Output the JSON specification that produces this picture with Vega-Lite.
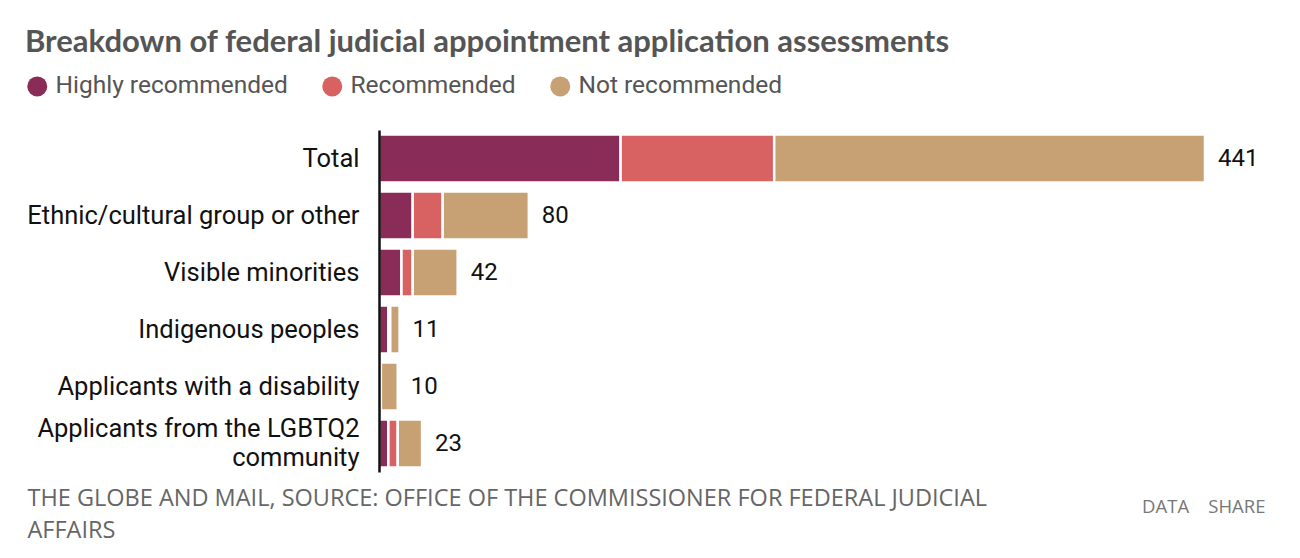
{
  "$schema": "https://vega.github.io/schema/vega-lite/v6.json",
  "width": 826,
  "height": 342,
  "autosize": {"type": "none"},
  "padding": {"left": 379, "top": 130, "right": 95, "bottom": 86},
  "background": "white",
  "title": {
    "text": "Breakdown of federal judicial appointment application assessments",
    "anchor": "start",
    "frame": "bounds",
    "font": "Lato",
    "fontWeight": "bold",
    "fontSize": 31,
    "color": "#555555",
    "offset": 15
  },
  "config": {
    "view": {"stroke": null},
    "font": "Roboto"
  },
  "resolve": {"axis": {"y": "independent"}},
  "datasets": {
    "segments": [
      {"group": "Total", "status": "Highly recommended", "rank": 1, "count": 129},
      {"group": "Total", "status": "Recommended", "rank": 2, "count": 82},
      {"group": "Total", "status": "Not recommended", "rank": 3, "count": 230},
      {"group": "Ethnic/cultural group or other", "status": "Highly recommended", "rank": 1, "count": 18},
      {"group": "Ethnic/cultural group or other", "status": "Recommended", "rank": 2, "count": 16},
      {"group": "Ethnic/cultural group or other", "status": "Not recommended", "rank": 3, "count": 46},
      {"group": "Visible minorities", "status": "Highly recommended", "rank": 1, "count": 12},
      {"group": "Visible minorities", "status": "Recommended", "rank": 2, "count": 6},
      {"group": "Visible minorities", "status": "Not recommended", "rank": 3, "count": 24},
      {"group": "Indigenous peoples", "status": "Highly recommended", "rank": 1, "count": 5},
      {"group": "Indigenous peoples", "status": "Recommended", "rank": 2, "count": 1},
      {"group": "Indigenous peoples", "status": "Not recommended", "rank": 3, "count": 5},
      {"group": "Applicants with a disability", "status": "Highly recommended", "rank": 1, "count": 1},
      {"group": "Applicants with a disability", "status": "Recommended", "rank": 2, "count": 0},
      {"group": "Applicants with a disability", "status": "Not recommended", "rank": 3, "count": 9},
      {"group": "Applicants from the LGBTQ2 community", "status": "Highly recommended", "rank": 1, "count": 5},
      {"group": "Applicants from the LGBTQ2 community", "status": "Recommended", "rank": 2, "count": 5},
      {"group": "Applicants from the LGBTQ2 community", "status": "Not recommended", "rank": 3, "count": 13}
    ],
    "totals": [
      {"group": "Total", "total": 441},
      {"group": "Ethnic/cultural group or other", "total": 80},
      {"group": "Visible minorities", "total": 42},
      {"group": "Indigenous peoples", "total": 11},
      {"group": "Applicants with a disability", "total": 10},
      {"group": "Applicants from the LGBTQ2 community", "total": 23}
    ]
  },
  "layer": [
    {
      "data": {"name": "segments"},
      "mark": {"type": "bar", "stroke": "white", "strokeWidth": 2.5},
      "encoding": {
        "y": {
          "field": "group",
          "type": "nominal",
          "sort": ["Total", "Ethnic/cultural group or other", "Visible minorities", "Indigenous peoples", "Applicants with a disability", "Applicants from the LGBTQ2 community"],
          "scale": {"paddingInner": 0.16, "paddingOuter": 0.08},
          "axis": {
            "title": null,
            "ticks": false,
            "zindex": 1,
            "domainColor": "#111111",
            "domainWidth": 2.5,
            "labelFontSize": 25.5,
            "labelColor": "#111111",
            "labelPadding": 20,
            "labelLimit": 400,
            "labelLineHeight": 29,
            "labelOffset": {"expr": "datum.value == 'Applicants from the LGBTQ2 community' ? -14.5 : 0"},
            "labelExpr": "datum.label == 'Applicants from the LGBTQ2 community' ? ['Applicants from the LGBTQ2', 'community'] : datum.label"
          }
        },
        "x": {
          "field": "count",
          "type": "quantitative",
          "stack": "zero",
          "scale": {"domain": [0, 441], "nice": false, "zero": true},
          "axis": {
            "domain": false,
            "ticks": false,
            "labels": false,
            "grid": false,
            "title": ["THE GLOBE AND MAIL, SOURCE: OFFICE OF THE COMMISSIONER FOR FEDERAL JUDICIAL", "AFFAIRS"],
            "titleFont": "Open Sans",
            "titleFontWeight": "normal",
            "titleFontSize": 23.5,
            "titleColor": "#666666",
            "titleAlign": "left",
            "titleBaseline": "middle",
            "titleLineHeight": 32,
            "titleX": -352,
            "titleY": 26
          }
        },
        "color": {
          "field": "status",
          "type": "nominal",
          "scale": {
            "domain": ["Highly recommended", "Recommended", "Not recommended"],
            "range": ["#892c57", "#d86161", "#c7a173"]
          },
          "legend": {
            "title": null,
            "orient": "none",
            "direction": "horizontal",
            "legendX": -354,
            "legendY": -56,
            "symbolType": "circle",
            "symbolSize": 400,
            "symbolStrokeWidth": 0,
            "labelFontSize": 24.5,
            "labelLimit": 400,
            "labelColor": "#555555",
            "labelOffset": 6,
            "columnPadding": 32
          }
        },
        "order": {"field": "rank", "type": "quantitative"}
      }
    },
    {
      "data": {"name": "totals"},
      "mark": {"type": "text", "align": "left", "baseline": "middle", "dx": 13, "fontSize": 24, "color": "#111111"},
      "encoding": {
        "y": {
          "field": "group",
          "type": "nominal",
          "sort": ["Total", "Ethnic/cultural group or other", "Visible minorities", "Indigenous peoples", "Applicants with a disability", "Applicants from the LGBTQ2 community"],
          "axis": {
            "orient": "right",
            "domain": false,
            "ticks": false,
            "labels": false,
            "grid": false,
            "title": "DATA\u00a0\u00a0\u00a0\u00a0SHARE",
            "titleAngle": 0,
            "titleFont": "Open Sans",
            "titleFontWeight": "normal",
            "titleFontSize": 18.5,
            "titleColor": "#777777",
            "titleAlign": "right",
            "titleBaseline": "middle",
            "titleX": 60,
            "titleY": 376
          }
        },
        "x": {"field": "total", "type": "quantitative"},
        "text": {"field": "total", "type": "quantitative"}
      }
    }
  ]
}
